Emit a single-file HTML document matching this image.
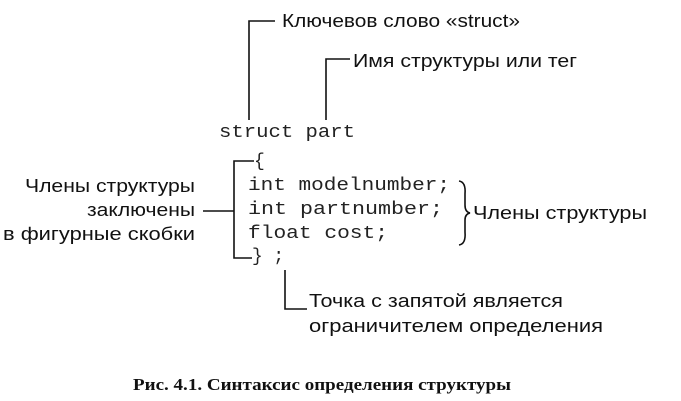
<!DOCTYPE html>
<html><head><meta charset="utf-8"><style>
html,body{margin:0;padding:0;background:#fff;}
svg{display:block}
.s{font-family:"Liberation Sans",sans-serif;font-size:18.5px;fill:#111}
.m{font-family:"Liberation Mono",monospace;font-size:18px;fill:#222}
.c{font-family:"Liberation Serif",serif;font-size:17px;font-weight:bold;fill:#111}
</style></head><body>
<svg width="681" height="401" viewBox="0 0 681 401" xmlns="http://www.w3.org/2000/svg">
<g stroke="#111" stroke-width="1.6" fill="none">
<polyline points="249,120 249,21 275,21"/>
<polyline points="326,120 326,59 350,59"/>
<polyline points="254,161 234,161 234,258 252,258"/>
<line x1="203" y1="211" x2="234" y2="211"/>
<polyline points="285,270 285,309 307,309"/>
<path d="M459,181 Q466,182 465,194 L465,205 Q465,212 470,213 Q465,214 465,220 L465,232 Q466,244 459,245"/>
</g>
<text class="s" x="282" y="27" textLength="238" lengthAdjust="spacingAndGlyphs">Ключевов слово «struct»</text>
<text class="s" x="353" y="67" textLength="224" lengthAdjust="spacingAndGlyphs">Имя структуры или тег</text>
<text class="m" x="219" y="137" textLength="136" lengthAdjust="spacingAndGlyphs">struct part</text>
<text class="m" x="254" y="166" font-size="15">{</text>
<text class="m" x="248" y="190" textLength="202" lengthAdjust="spacingAndGlyphs">int modelnumber;</text>
<text class="m" x="248" y="214" textLength="195" lengthAdjust="spacingAndGlyphs">int partnumber;</text>
<text class="m" x="248" y="238" textLength="140" lengthAdjust="spacingAndGlyphs">float cost;</text>
<text class="m" x="252" y="261" textLength="32" lengthAdjust="spacingAndGlyphs">} ;</text>
<text class="s" x="25" y="192" textLength="170" lengthAdjust="spacingAndGlyphs">Члены структуры</text>
<text class="s" x="87" y="216" textLength="108" lengthAdjust="spacingAndGlyphs">заключены</text>
<text class="s" x="3" y="240" textLength="192" lengthAdjust="spacingAndGlyphs">в фигурные скобки</text>
<text class="s" x="473" y="219" textLength="174" lengthAdjust="spacingAndGlyphs">Члены структуры</text>
<text class="s" x="309" y="307" textLength="254" lengthAdjust="spacingAndGlyphs">Точка с запятой является</text>
<text class="s" x="309" y="332" textLength="294" lengthAdjust="spacingAndGlyphs">ограничителем определения</text>
<text class="c" x="133" y="390" textLength="378" lengthAdjust="spacingAndGlyphs">Рис. 4.1. Синтаксис определения структуры</text>
</svg>
</body></html>
